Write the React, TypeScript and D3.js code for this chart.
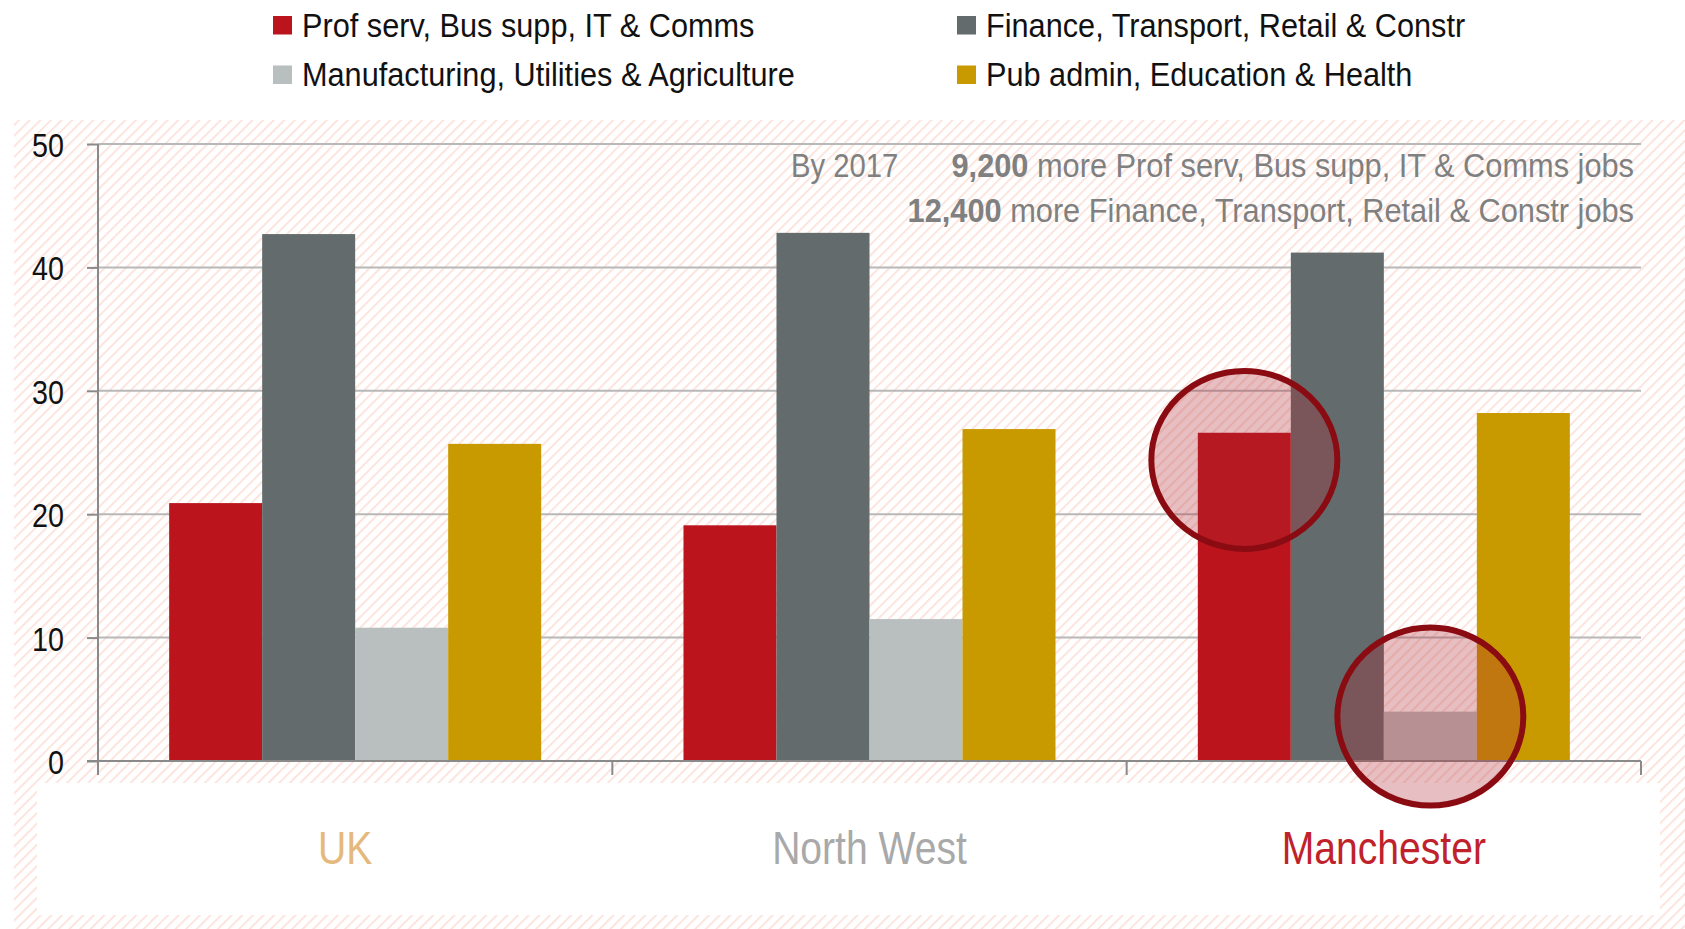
import React, { useRef, useEffect } from "react";
import * as d3 from "d3";

const regions = ["UK", "North West", "Manchester"];
const sectors = [
  "Prof serv, Bus supp, IT & Comms",
  "Finance, Transport, Retail & Constr",
  "Manufacturing, Utilities & Agriculture",
  "Pub admin, Education & Health",
];
const profServ = [20.9, 19.1, 26.6];
const finance = [42.7, 42.8, 41.2];
const manufacturing = [10.8, 11.5, 4.0];
const pubAdmin = [25.7, 26.9, 28.2];
const yTicks = [0, 10, 20, 30, 40, 50];
const sectorColors = ["#bb141d", "#636b6c", "#b9bebe", "#c99a00"];
const regionColors = ["#e5b87c", "#a9a9a9", "#c0222b"];
// circled bars
const highlights = [
  { region: "Manchester", sector: 0, value: 24.4 },
  { region: "Manchester", sector: 2, value: 3.6 },
];
const noteLines = [
  { lead: "By 2017", num: "9,200", rest: " more Prof serv, Bus supp, IT & Comms jobs" },
  { lead: "", num: "12,400", rest: " more Finance, Transport, Retail & Constr jobs" },
];

// Arial-metric font squeezed horizontally to get the narrow look
const FONT = "'Liberation Sans', Arial, sans-serif";

const App = () => {
  const svgRef = useRef<SVGSVGElement>(null);

  useEffect(() => {
    const width = 1685, height = 929;
    const series = [profServ, finance, manufacturing, pubAdmin];

    const svg = d3.select(svgRef.current)
      .attr("width", width)
      .attr("height", height)
      .style("font-family", FONT);
    svg.selectAll("*").remove();

    const squeezed = (parent, x, y, sx) =>
      parent.append("g").attr("transform", `translate(${x},${y}) scale(${sx},1)`);

    // hatched backdrop
    const defs = svg.append("defs");
    const pat = defs.append("pattern")
      .attr("id", "hatch")
      .attr("patternUnits", "userSpaceOnUse")
      .attr("width", 7.5)
      .attr("height", 7.5)
      .attr("patternTransform", "rotate(45)");
    pat.append("rect").attr("width", 7.5).attr("height", 7.5).attr("fill", "#fff");
    pat.append("line")
      .attr("x1", 1).attr("y1", 0).attr("x2", 1).attr("y2", 7.5)
      .attr("stroke", "#fce5df")
      .attr("stroke-width", 2);

    svg.append("rect").attr("width", width).attr("height", height).attr("fill", "#fff");
    svg.append("rect")
      .attr("x", 14).attr("y", 120)
      .attr("width", width - 14).attr("height", height - 120)
      .attr("fill", "url(#hatch)");
    svg.append("rect")
      .attr("x", 37).attr("y", 783)
      .attr("width", 1623).attr("height", 132)
      .attr("fill", "#fff");

    const x0 = d3.scaleBand()
      .domain(regions)
      .range([98, 1641])
      .paddingInner(0)
      .paddingOuter(0);

    const x1 = d3.scaleBand()
      .domain(d3.range(sectors.length).map(String))
      .range([0, x0.bandwidth()])
      .paddingInner(0)
      .paddingOuter(0.765);

    const y = d3.scaleLinear()
      .domain([0, 50])
      .range([761, 144]);

    // gridlines
    svg.append("g")
      .selectAll("line")
      .data(yTicks.filter(t => t > 0))
      .enter()
      .append("line")
      .attr("x1", 98).attr("x2", 1641)
      .attr("y1", d => y(d)).attr("y2", d => y(d))
      .attr("stroke", "#b8b8b8")
      .attr("stroke-width", 2);

    // y axis ticks
    const yAxis = svg.append("g")
      .attr("transform", "translate(98,0)")
      .call(d3.axisLeft(y).tickValues(yTicks).tickSize(11).tickFormat(() => ""));
    yAxis.select(".domain").remove();
    yAxis.selectAll(".tick line").attr("stroke", "#8a8a8a").attr("stroke-width", 2);
    yTicks.forEach(t => {
      squeezed(svg, 64, y(t) + 13, 0.87)
        .append("text")
        .attr("text-anchor", "end")
        .attr("fill", "#111")
        .style("font-size", "33px")
        .text(t);
    });
    svg.append("line")
      .attr("x1", 98).attr("x2", 98)
      .attr("y1", y(50)).attr("y2", 775)
      .attr("stroke", "#8a8a8a").attr("stroke-width", 2);

    // bars
    const groups = svg.append("g")
      .selectAll("g")
      .data(regions)
      .enter()
      .append("g")
      .attr("transform", d => `translate(${x0(d)},0)`);

    groups.selectAll("rect")
      .data((d, gi) => series.map((s, si) => ({ si, v: s[gi] })))
      .enter()
      .append("rect")
      .attr("x", d => x1(String(d.si)) as number)
      .attr("y", d => y(d.v))
      .attr("width", x1.bandwidth())
      .attr("height", d => y(0) - y(d.v))
      .attr("fill", d => sectorColors[d.si]);

    // x axis
    svg.append("line")
      .attr("x1", 87).attr("x2", 1641)
      .attr("y1", y(0)).attr("y2", y(0))
      .attr("stroke", "#8a8a8a").attr("stroke-width", 2);
    const bounds = regions.map(r => x0(r) as number).concat([1641]);
    svg.append("g")
      .selectAll("line")
      .data(bounds.slice(1))
      .enter()
      .append("line")
      .attr("x1", d => d).attr("x2", d => d)
      .attr("y1", y(0)).attr("y2", 775)
      .attr("stroke", "#8a8a8a").attr("stroke-width", 2);

    // region labels
    regions.forEach((r, i) => {
      squeezed(svg, (x0(r) as number) + x0.bandwidth() / 2 - (i === 0 ? 10 : 0), 864, 0.85)
        .append("text")
        .attr("text-anchor", "middle")
        .attr("fill", regionColors[i])
        .style("font-size", "46px")
        .text(r);
    });

    // highlight circles
    svg.append("g")
      .selectAll("ellipse")
      .data(highlights)
      .enter()
      .append("ellipse")
      .attr("cx", d => (x0(d.region) as number) + (x1(String(d.sector)) as number) + x1.bandwidth() / 2)
      .attr("cy", d => y(d.value))
      .attr("rx", 93)
      .attr("ry", 89)
      .attr("fill", "rgba(175,40,50,0.3)")
      .attr("stroke", "#8a0c12")
      .attr("stroke-width", 6);

    // note
    noteLines.forEach((n, i) => {
      const yy = 177 + i * 45;
      if (n.lead) {
        squeezed(svg, 791, yy, 0.86)
          .append("text")
          .attr("fill", "#808080")
          .style("font-size", "34px")
          .text(n.lead);
      }
      const t = squeezed(svg, 1634, yy, 0.905)
        .append("text")
        .attr("text-anchor", "end")
        .attr("fill", "#808080")
        .style("font-size", "34px");
      t.append("tspan").attr("font-weight", "bold").text(n.num);
      t.append("tspan").text(n.rest);
    });

    // legend
    sectors.forEach((s, i) => {
      const lx = [273, 957][i % 2];
      const ly = [16, 65.5][Math.floor(i / 2)];
      svg.append("rect")
        .attr("x", lx).attr("y", ly)
        .attr("width", 19).attr("height", 18.5)
        .attr("fill", sectorColors[i]);
      squeezed(svg, lx + 29, ly + 20.7, 0.93)
        .append("text")
        .attr("fill", "#111")
        .style("font-size", "33px")
        .text(s);
    });
  }, []);

  return (
    <div style={{ position: "absolute", left: 0, top: 0 }}>
      <svg ref={svgRef} style={{ display: "block" }}></svg>
    </div>
  );
};

export default App;
